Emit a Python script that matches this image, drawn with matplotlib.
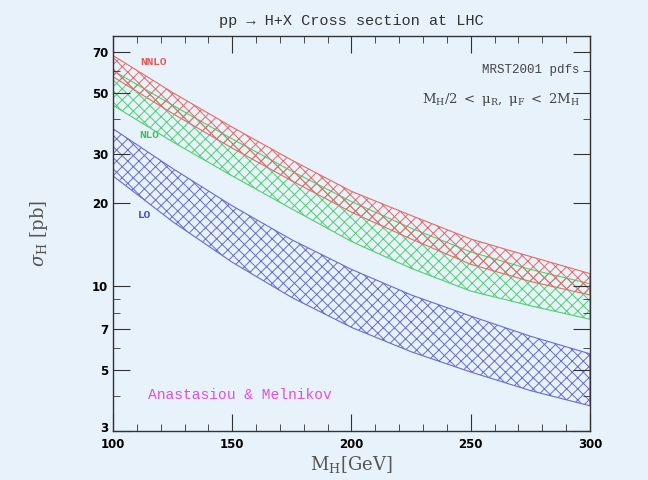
import matplotlib
matplotlib.use("Agg")
import matplotlib.pyplot as plt
import matplotlib.transforms as mtransforms
from matplotlib.ticker import FixedLocator, FixedFormatter, MultipleLocator, NullFormatter

# Higgs mass points [GeV]
mass = [100, 125, 150, 175, 200, 225, 250, 275, 300]

# scale-variation bands, sigma [pb]
lo_hi = [37.0, 26.6, 19.5, 14.7, 11.5, 9.3, 7.8, 6.6, 5.7]
lo_lo = [25.0, 17.1, 12.2, 9.1, 7.1, 5.8, 4.9, 4.2, 3.7]
nlo_hi = [60.0, 45.0, 34.0, 26.0, 20.2, 16.2, 13.3, 11.5, 10.2]
nlo_lo = [45.0, 33.2, 25.0, 19.0, 14.5, 11.6, 9.6, 8.5, 7.6]
nnlo_hi = [68.0, 50.0, 37.5, 28.5, 22.0, 18.0, 14.8, 12.8, 11.1]
nnlo_lo = [57.0, 42.0, 31.5, 24.0, 18.5, 14.8, 12.0, 10.4, 9.3]

y_ticks = [3, 5, 7, 10, 20, 30, 50, 70]

bg = "#e8f2fa"
plt.rcParams["hatch.linewidth"] = 0.7
plt.rcParams["mathtext.fontset"] = "dejavuserif"

fig = plt.figure(figsize=(6.48, 4.8), dpi=100, facecolor=bg)
ax = fig.add_axes([0.1744, 0.102, 0.736, 0.823], facecolor=bg)

bands = [
    (lo_lo, lo_hi, "#6a6ad2"),
    (nlo_lo, nlo_hi, "#4fd070"),
    (nnlo_lo, nnlo_hi, "#e46a6a"),
]
for lo, hi, col in bands:
    ax.fill_between(mass, lo, hi, facecolor="none", edgecolor=col,
                    hatch="xxx", linewidth=0.8)

ax.set_yscale("log")
ax.set_xlim(100, 300)
ax.set_ylim(3, 80)

ax.xaxis.set_major_locator(MultipleLocator(50))
ax.xaxis.set_minor_locator(MultipleLocator(10))
ax.yaxis.set_major_locator(FixedLocator(y_ticks))
ax.yaxis.set_major_formatter(FixedFormatter([str(v) for v in y_ticks]))
ax.yaxis.set_minor_formatter(NullFormatter())

ax.tick_params(which="both", direction="in", top=True, right=True,
               color="#333333", labelsize=8.5)
ax.tick_params(which="major", length=12, width=0.8)
ax.tick_params(which="minor", length=5, width=0.6)
ax.tick_params(axis="x", pad=5)
for lab in ax.get_xticklabels() + ax.get_yticklabels():
    lab.set_fontweight("bold")

# lift the lowest y label a little so it clears the "100"
fig.canvas.draw()
lowest = ax.get_yticklabels()[0]
lowest.set_transform(lowest.get_transform() +
                     mtransforms.ScaledTranslation(0, 3 / 72, fig.dpi_scale_trans))

for sp in ax.spines.values():
    sp.set_color("#333333")
    sp.set_linewidth(1.0)

ax.set_title("pp → H+X Cross section at LHC", family="Liberation Mono",
             fontsize=11, pad=8, color="#333333")
ax.set_xlabel(r"$\mathrm{M_H[GeV]}$", fontsize=13, color="#555555",
              labelpad=2)
ax.set_ylabel(r"$\sigma_{\mathrm{H}}\ \mathrm{[pb]}$", fontsize=13,
              color="#555555", labelpad=30)

ax.text(0.084, 0.934, "NNLO", transform=ax.transAxes, color="#e05a5a",
        family="Liberation Mono", fontsize=8, fontweight="bold",
        ha="center", va="center")
ax.text(0.075, 0.749, "NLO", transform=ax.transAxes, color="#35c855",
        family="Liberation Mono", fontsize=8, fontweight="bold",
        ha="center", va="center")
ax.text(0.065, 0.547, "LO", transform=ax.transAxes, color="#4a4ac8",
        family="Liberation Mono", fontsize=8, fontweight="bold",
        ha="center", va="center")

ax.text(0.979, 0.914, "MRST2001 pdfs", transform=ax.transAxes,
        family="Liberation Mono", fontsize=9, ha="right", va="center",
        color="#444444")
ax.text(0.979, 0.838, r"$\mathrm{M_H/2\ <\ \mu_R,\ \mu_F\ <\ 2M_H}$",
        transform=ax.transAxes, fontsize=9.5, ha="right", va="center",
        color="#444444")
ax.text(0.073, 0.091, "Anastasiou & Melnikov", transform=ax.transAxes,
        family="Liberation Mono", fontsize=10.5, ha="left", va="center",
        color="#e050e0")

fig.savefig("out.png", dpi=100, facecolor=bg)
